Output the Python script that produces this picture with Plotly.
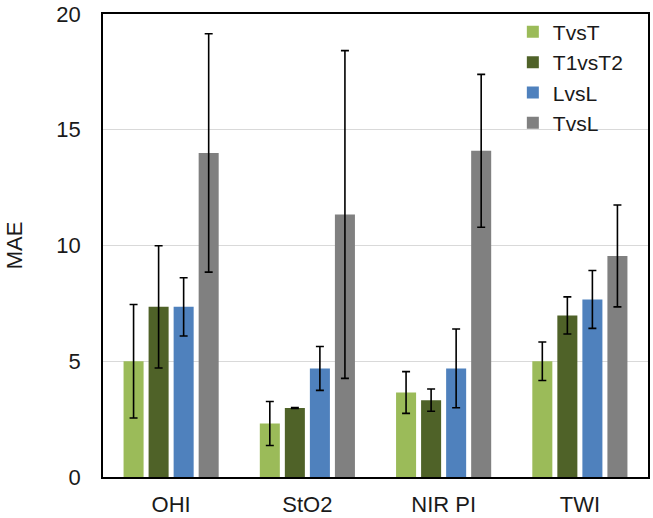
import plotly.graph_objects as go

categories = ["OHI", "StO2", "NIR PI", "TWI"]
series_names = ["TvsT", "T1vsT2", "LvsL", "TvsL"]
tvst = [5.0, 2.31, 3.65, 5.0]
tvst_err = [2.45, 0.95, 0.9, 0.83]
t1vst2 = [7.35, 2.98, 3.32, 6.98]
t1vst2_err = [2.64, 0.02, 0.48, 0.8]
lvsl = [7.35, 4.69, 4.69, 7.67]
lvsl_err = [1.26, 0.95, 1.7, 1.25]
tvsl = [14.0, 11.34, 14.09, 9.55]
tvsl_err = [5.15, 7.08, 3.3, 2.2]
colors = ["#9BBB59", "#4F6228", "#4F81BD", "#808080"]

values = [tvst, t1vst2, lvsl, tvsl]
errors = [tvst_err, t1vst2_err, lvsl_err, tvsl_err]

fig = go.Figure()
for name, v, e, c in zip(series_names, values, errors, colors):
    fig.add_trace(go.Bar(
        x=categories, y=v, name=name, marker_color=c, marker_line_width=0,
        error_y=dict(type="data", array=e, visible=True, color="black",
                     thickness=1.6, width=4),
    ))

fig.update_layout(
    width=653, height=518,
    margin=dict(l=103, r=5, t=14, b=41, autoexpand=False),
    paper_bgcolor="white", plot_bgcolor="white",
    barmode="group", bargap=0.265, bargroupgap=0.2,
    font=dict(family="Liberation Sans, Arial, sans-serif", size=22, color="#1a1a1a"),
    legend=dict(x=0.752, y=1.005, xanchor="left", yanchor="top",
                bgcolor="rgba(255,255,255,0)", font=dict(size=21),
                itemwidth=30, tracegroupgap=0),
    showlegend=True,
)
fig.update_xaxes(showline=True, linecolor="black", linewidth=1.5, mirror=True,
                 ticks="outside", ticklen=7, tickcolor="rgba(0,0,0,0)",
                 showgrid=False, automargin=False)
fig.update_yaxes(range=[0, 20], dtick=5, showline=True, linecolor="black",
                 linewidth=1.5, mirror=True, showgrid=True, gridcolor="#d9d9d9",
                 gridwidth=1, ticks="outside", ticklen=16,
                 tickcolor="rgba(0,0,0,0)", zeroline=False, automargin=False,
                 title=dict(text="MAE", standoff=28, font=dict(size=22)))

fig.write_html("out.html", config={"displayModeBar": False},
               post_script="document.body.style.margin='0';")
